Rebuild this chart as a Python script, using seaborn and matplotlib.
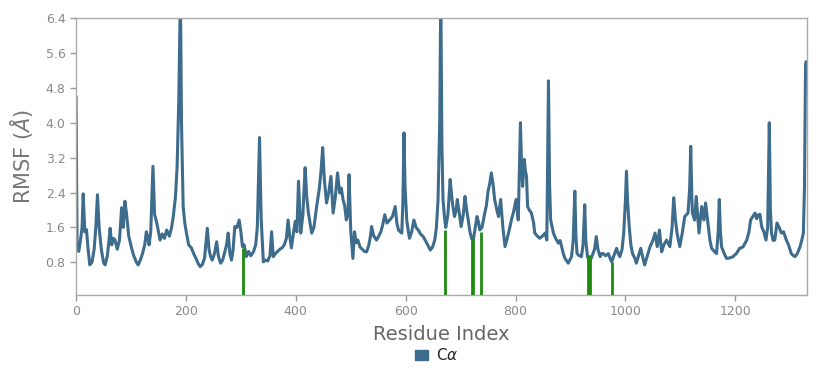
import matplotlib
matplotlib.use("Agg")
import matplotlib.pyplot as plt
from matplotlib.patches import Patch
import seaborn as sns

# ---- data ----
residues = [0, 2, 5, 8, 11, 13, 16, 19, 22, 25, 29, 33, 36, 39, 42, 46, 50, 53, 57, 60,
            62, 65, 68, 71, 75, 79, 83, 86, 89, 92, 96, 101, 105, 110, 113, 117, 121, 125, 128, 131,
            133, 136, 140, 143, 147, 150, 153, 157, 161, 165, 170, 174, 177, 181, 184, 187, 190, 192, 195, 198,
            201, 205, 210, 214, 218, 222, 226, 230, 234, 239, 242, 245, 248, 252, 256, 259, 263, 267, 270, 274,
            277, 280, 283, 286, 289, 293, 297, 300, 303, 306, 310, 314, 318, 323, 327, 330, 334, 337, 341, 345,
            349, 353, 356, 359, 363, 367, 371, 375, 379, 383, 386, 389, 392, 395, 399, 402, 405, 409, 413, 417,
            420, 423, 426, 429, 433, 438, 443, 446, 449, 452, 456, 460, 464, 468, 472, 476, 480, 483, 486, 489,
            492, 495, 497, 500, 504, 507, 510, 513, 517, 521, 525, 529, 533, 536, 538, 542, 547, 551, 555, 559,
            562, 566, 571, 576, 581, 584, 587, 590, 593, 595, 597, 599, 602, 605, 607, 611, 615, 619, 623, 627,
            632, 636, 640, 645, 649, 653, 656, 659, 662, 664, 666, 668, 671, 673, 677, 681, 684, 686, 689, 692,
            694, 698, 701, 705, 708, 711, 714, 717, 720, 723, 726, 730, 733, 735, 739, 744, 747, 750, 753, 756,
            759, 762, 766, 769, 773, 777, 781, 785, 790, 793, 796, 801, 805, 809, 811, 813, 816, 818, 820, 822,
            825, 829, 833, 835, 840, 844, 849, 854, 857, 860, 862, 864, 869, 873, 878, 881, 884, 887, 890, 896,
            902, 905, 908, 910, 912, 916, 920, 923, 926, 928, 931, 935, 938, 941, 944, 947, 950, 954, 957, 960,
            964, 969, 972, 975, 979, 984, 987, 990, 994, 997, 1000, 1002, 1004, 1007, 1010, 1013, 1017, 1020, 1024, 1028,
            1031, 1035, 1040, 1045, 1050, 1054, 1058, 1062, 1066, 1070, 1075, 1081, 1085, 1088, 1091, 1094, 1099, 1104, 1108, 1114,
            1117, 1119, 1121, 1122, 1126, 1129, 1134, 1139, 1143, 1146, 1151, 1154, 1157, 1162, 1166, 1169, 1171, 1173, 1175, 1180,
            1184, 1190, 1196, 1202, 1208, 1214, 1221, 1225, 1228, 1232, 1236, 1239, 1242, 1245, 1248, 1252, 1256, 1259, 1262, 1264,
            1266, 1269, 1272, 1276, 1280, 1284, 1288, 1293, 1297, 1302, 1306, 1309, 1313, 1318, 1321, 1324, 1326, 1328, 1329]

rmsf = [4.6, 1.1, 1.05, 1.3, 1.6, 2.37, 1.5, 1.55, 1.1, 0.74, 0.8, 1.1, 1.6, 2.35, 1.6, 1.1, 0.8, 0.74, 0.95, 1.3,
        1.58, 1.2, 1.35, 1.31, 1.1, 1.3, 2.05, 1.6, 2.2, 1.9, 1.4, 1.13, 0.95, 0.8, 0.74, 0.85, 1.0, 1.2, 1.5, 1.35,
        1.2, 1.5, 3.0, 1.9, 1.7, 1.5, 1.31, 1.45, 1.35, 1.54, 1.4, 1.6, 1.85, 2.3, 3.0, 4.5, 7.0, 4.0, 2.08, 1.7,
        1.47, 1.2, 1.13, 1.0, 0.9, 0.78, 0.7, 0.75, 0.9, 1.58, 1.1, 0.93, 0.85, 1.0, 1.27, 0.95, 0.78, 0.85, 1.0, 1.2,
        1.47, 1.0, 0.85, 1.1, 1.62, 1.6, 1.77, 1.5, 1.16, 1.2, 0.93, 1.05, 0.95, 1.04, 1.2, 1.6, 3.66, 1.8, 0.81, 0.85,
        0.83, 0.95, 1.5, 0.93, 1.0, 1.05, 1.1, 1.13, 1.2, 1.35, 1.77, 1.4, 1.13, 1.4, 1.74, 1.5, 2.66, 1.47, 1.9, 2.97,
        2.3, 1.93, 1.7, 1.47, 1.6, 2.08, 2.5, 2.9, 3.43, 2.7, 2.16, 2.4, 2.77, 1.93, 2.3, 2.85, 2.39, 2.5, 2.24, 2.1,
        1.77, 1.9, 2.81, 1.54, 0.89, 1.5, 1.25, 1.31, 1.15, 1.1, 1.05, 1.04, 1.2, 1.4, 1.62, 1.4, 1.31, 1.4, 1.5, 1.7,
        1.89, 1.7, 1.77, 1.85, 2.08, 1.7, 1.54, 1.5, 1.47, 2.2, 3.77, 2.5, 1.77, 1.5, 1.35, 1.5, 1.77, 1.6, 1.54, 1.45,
        1.39, 1.3, 1.2, 1.08, 1.15, 1.31, 1.6, 2.24, 4.0, 7.0, 3.5, 2.24, 1.8, 1.6, 1.9, 2.7, 2.3, 2.08, 1.85, 2.0,
        2.24, 1.9, 1.62, 1.9, 2.31, 2.0, 1.77, 1.5, 1.35, 1.3, 1.54, 1.85, 1.7, 1.54, 1.6, 1.93, 2.1, 2.43, 2.6, 2.85,
        2.6, 2.24, 2.0, 1.85, 2.24, 1.6, 1.16, 1.35, 1.62, 1.8, 1.93, 2.24, 1.77, 4.0, 3.0, 2.54, 3.16, 2.9, 2.77, 2.08,
        2.0, 1.93, 1.7, 1.47, 1.4, 1.35, 1.4, 1.47, 1.31, 4.96, 2.6, 1.77, 1.47, 1.35, 1.24, 1.3, 1.16, 1.0, 0.89, 0.78,
        0.93, 1.3, 2.43, 1.4, 1.0, 0.95, 0.93, 1.2, 2.12, 1.3, 0.93, 0.81, 0.9, 1.0, 1.1, 1.39, 1.1, 0.93, 1.0, 1.0,
        0.95, 1.0, 0.9, 0.81, 0.95, 1.12, 1.0, 0.93, 1.1, 1.47, 2.2, 2.89, 2.2, 1.62, 1.2, 1.0, 0.9, 0.78, 0.95, 1.12,
        0.95, 0.74, 0.95, 1.16, 1.3, 1.47, 1.16, 1.54, 1.04, 1.2, 1.31, 1.16, 1.6, 2.28, 1.8, 1.47, 1.16, 1.5, 1.85, 1.93,
        2.5, 3.46, 2.3, 1.93, 1.77, 2.31, 1.47, 2.08, 1.77, 2.16, 1.62, 1.3, 1.12, 1.05, 1.0, 1.5, 2.24, 1.5, 1.16, 1.0,
        0.89, 0.9, 0.93, 1.0, 1.12, 1.15, 1.31, 1.5, 1.77, 1.85, 1.93, 1.8, 1.89, 1.9, 1.62, 1.5, 1.31, 1.6, 4.0, 2.0,
        1.47, 1.3, 1.31, 1.7, 1.6, 1.47, 1.5, 1.31, 1.2, 1.0, 0.95, 0.93, 1.0, 1.16, 1.3, 1.47, 2.5, 5.35, 5.4]

marked_residues = [304, 672, 720, 723, 737, 932, 935, 975]
marked_heights = [1.12, 1.54, 1.35, 1.3, 1.5, 0.96, 0.96, 0.81]

x_ticks = [0, 200, 400, 600, 800, 1000, 1200]
y_ticks = [0.8, 1.6, 2.4, 3.2, 4.0, 4.8, 5.6, 6.4]

LINE = "#3e6c8d"
GREEN = "#1f8a0f"

sns.set_theme(style="white")
plt.rcParams["font.family"] = ["DejaVu Sans"]

fig, ax = plt.subplots(figsize=(8.22, 3.77), dpi=100)
fig.subplots_adjust(left=0.0925, right=0.982, bottom=0.2175, top=0.952)

sns.lineplot(x=residues, y=rmsf, color=LINE, linewidth=2.2, ax=ax, legend=False)
ax.vlines(marked_residues, ymin=0.05, ymax=marked_heights, color=GREEN, linewidth=2.0, zorder=3)

ax.set_xlim(0, 1331)
ax.set_ylim(0.05, 6.4)
ax.set_xticks(x_ticks)
ax.set_yticks(y_ticks)
ax.set_yticklabels([f"{v:.1f}" for v in y_ticks])
ax.tick_params(axis="both", which="both", bottom=True, left=True, length=4, width=1,
               color="#999999", labelcolor="#8a8a8a", labelsize=9)

for s in ax.spines.values():
    s.set_color("#aaaaaa")
    s.set_linewidth(1.0)

ax.set_xlabel("Residue Index", fontsize=14, color="#666666", labelpad=5)
ax.set_ylabel(r"RMSF ($\AA$)", fontsize=15, color="#777777", labelpad=8)

fig.legend(handles=[Patch(color=LINE)], labels=[r"C$\alpha$"], loc="center",
           bbox_to_anchor=(0.531, 0.058), frameon=False, fontsize=11,
           handlelength=0.9, handleheight=0.6, handletextpad=0.5,
           borderpad=0.1)

fig.savefig("out.png", dpi=100)
